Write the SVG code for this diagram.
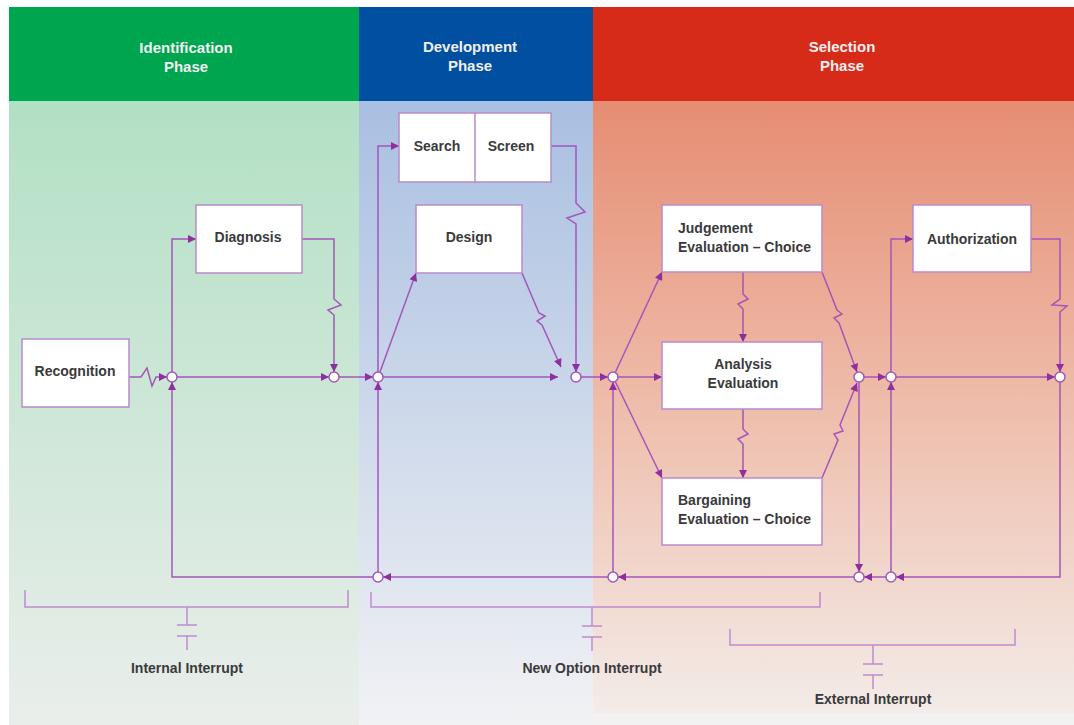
<svg xmlns="http://www.w3.org/2000/svg" width="1074" height="725" viewBox="0 0 1074 725">
  <defs>
    <linearGradient id="gGreen" x1="0" y1="0" x2="0" y2="1">
      <stop offset="0" stop-color="#b2e0c4"/>
      <stop offset="1" stop-color="#eaeeeb"/>
    </linearGradient>
    <linearGradient id="gBlue" x1="0" y1="0" x2="0" y2="1">
      <stop offset="0" stop-color="#a9bfe1"/>
      <stop offset="1" stop-color="#f1f2f4"/>
    </linearGradient>
    <linearGradient id="gRed" x1="0" y1="0" x2="0" y2="1">
      <stop offset="0" stop-color="#e68d73"/>
      <stop offset="0.55" stop-color="#efc2b1"/>
      <stop offset="1" stop-color="#f3ece8"/>
    </linearGradient>
    <marker id="ah" viewBox="0 0 10 10" refX="10" refY="5" markerWidth="9" markerHeight="8" markerUnits="userSpaceOnUse" orient="auto">
      <path d="M0,0 L10,5 L0,10 z" fill="#8e2f9f"/>
    </marker>
    <style>
      .hdr { font-family: "Liberation Sans Narrow", "Liberation Sans", Arial, sans-serif; font-weight: bold; font-size: 15px; fill: #f2eef0; text-anchor: middle; }
      .box { fill: #ffffff; stroke: #b98acb; stroke-width: 1.5; }
      .lbl { font-family: "Liberation Sans Narrow", "Liberation Sans", Arial, sans-serif; font-weight: bold; font-size: 14px; fill: #3a3a3c; }
      .mid { text-anchor: middle; }
      .ln { fill: none; stroke: #a456b9; stroke-width: 1.5; }
      .arr { marker-end: url(#ah); }
      .jn { fill: #ffffff; stroke: #a456b9; stroke-width: 1.5; }
      .br { fill: none; stroke: #c08ad0; stroke-width: 1.5; }
    </style>
  </defs>

  <!-- page -->
  <rect x="0" y="0" width="1074" height="725" fill="#ffffff"/>

  <!-- phase columns -->
  <rect x="9" y="101" width="350" height="624" fill="url(#gGreen)"/>
  <rect x="359" y="101" width="234" height="624" fill="url(#gBlue)"/>
  <rect x="593" y="101" width="481" height="612" fill="url(#gRed)"/>
  <rect x="593" y="713" width="481" height="12" fill="#f2f2f2"/>

  <!-- phase headers -->
  <g id="hdr-identification">
    <rect x="9" y="7" width="350" height="94" fill="#00a550"/>
    <text class="hdr" x="186" y="53">Identification</text>
    <text class="hdr" x="186" y="72">Phase</text>
  </g>
  <g id="hdr-development">
    <rect x="359" y="7" width="234" height="94" fill="#004fa0"/>
    <text class="hdr" x="470" y="52">Development</text>
    <text class="hdr" x="470" y="71">Phase</text>
  </g>
  <g id="hdr-selection">
    <rect x="593" y="7" width="481" height="94" fill="#d72b19"/>
    <text class="hdr" x="842" y="52">Selection</text>
    <text class="hdr" x="842" y="71">Phase</text>
  </g>

  <!-- connectors -->
  <g id="connectors">
    <path class="ln arr" d="M129,377 L141,377 L147,368 L152,386 L156,377 L167,377"/>
    <path class="ln arr" d="M177,377 L329,377"/>
    <path class="ln arr" d="M172,372 L172,239 L196,239"/>
    <path class="ln arr" d="M302,239 L334,239 L334,299 L341,305 L328,310 L334,315 L334,372"/>
    <path class="ln arr" d="M339,377 L373,377"/>
    <path class="ln arr" d="M378,372 L378,146 L399,146"/>
    <path class="ln arr" d="M380,372 L416,273"/>
    <path class="ln arr" d="M383,377 L558,377"/>
    <path class="ln arr" d="M551,146 L576,146 L576,203 L585,212 L567,218 L576,224 L576,372"/>
    <path class="ln arr" d="M522,273 L539,313 L545,316 L537,321 L542,325 L561,367"/>
    <path class="ln arr" d="M581,377 L608,377"/>
    <path class="ln arr" d="M615,373 L662,272"/>
    <path class="ln arr" d="M618,377 L662,377"/>
    <path class="ln arr" d="M615,381 L662,478"/>
    <path class="ln arr" d="M743,272 L743,294 L748,299 L738,304 L743,309 L743,342"/>
    <path class="ln arr" d="M743,409 L743,429 L748,434 L738,439 L743,444 L743,478"/>
    <path class="ln arr" d="M822,272 L837,310 L842,314 L834,318 L839,323 L857,372"/>
    <path class="ln arr" d="M822,478 L838,440 L834,434 L843,431 L840,425 L857,383"/>
    <path class="ln arr" d="M864,377 L886,377"/>
    <path class="ln arr" d="M891,372 L891,239 L913,239"/>
    <path class="ln arr" d="M1031,239 L1060,239 L1060,299 L1052,305 L1067,306 L1060,312 L1060,372"/>
    <path class="ln arr" d="M896,377 L1055,377"/>
    <path class="ln arr" d="M1060,382 L1060,577 L896,577"/>
    <path class="ln arr" d="M891,572 L891,382"/>
    <path class="ln arr" d="M859,382 L859,572"/>
    <path class="ln arr" d="M886,577 L864,577"/>
    <path class="ln arr" d="M854,577 L618,577"/>
    <path class="ln arr" d="M613,572 L613,382"/>
    <path class="ln arr" d="M608,577 L383,577"/>
    <path class="ln arr" d="M378,572 L378,382"/>
    <path class="ln arr" d="M373,577 L172,577 L172,382"/>

    <!-- junctions -->
    <circle class="jn" cx="172" cy="377" r="5"/>
    <circle class="jn" cx="334" cy="377" r="5"/>
    <circle class="jn" cx="378" cy="377" r="5"/>
    <circle class="jn" cx="576" cy="377" r="5"/>
    <circle class="jn" cx="613" cy="377" r="5"/>
    <circle class="jn" cx="859" cy="377" r="5"/>
    <circle class="jn" cx="891" cy="377" r="5"/>
    <circle class="jn" cx="1060" cy="377" r="5"/>
    <circle class="jn" cx="378" cy="577" r="5"/>
    <circle class="jn" cx="613" cy="577" r="5"/>
    <circle class="jn" cx="859" cy="577" r="5"/>
    <circle class="jn" cx="891" cy="577" r="5"/>
  </g>

  <!-- nodes -->
  <g id="recognition">
    <rect class="box" x="22" y="339" width="107" height="68"/>
    <text class="lbl mid" x="75" y="376">Recognition</text>
  </g>
  <g id="diagnosis">
    <rect class="box" x="196" y="205" width="106" height="68"/>
    <text class="lbl mid" x="248" y="242">Diagnosis</text>
  </g>
  <g id="search-screen">
    <rect class="box" x="399" y="113" width="152" height="69"/>
    <line x1="475" y1="113" x2="475" y2="182" stroke="#b98acb" stroke-width="1.5"/>
    <text class="lbl mid" x="437" y="151">Search</text>
    <text class="lbl mid" x="511" y="151">Screen</text>
  </g>
  <g id="design">
    <rect class="box" x="416" y="205" width="106" height="68"/>
    <text class="lbl mid" x="469" y="242">Design</text>
  </g>
  <g id="judgement">
    <rect class="box" x="662" y="205" width="160" height="67"/>
    <text class="lbl" x="678" y="233">Judgement</text>
    <text class="lbl" x="678" y="252">Evaluation – Choice</text>
  </g>
  <g id="analysis">
    <rect class="box" x="662" y="342" width="160" height="67"/>
    <text class="lbl mid" x="743" y="369">Analysis</text>
    <text class="lbl mid" x="743" y="388">Evaluation</text>
  </g>
  <g id="bargaining">
    <rect class="box" x="662" y="478" width="160" height="67"/>
    <text class="lbl" x="678" y="505">Bargaining</text>
    <text class="lbl" x="678" y="524">Evaluation – Choice</text>
  </g>
  <g id="authorization">
    <rect class="box" x="913" y="205" width="118" height="67"/>
    <text class="lbl mid" x="972" y="244">Authorization</text>
  </g>

  <!-- interrupt brackets -->
  <g id="internal-interrupt">
    <path class="br" d="M25,590 L25,607 L348,607 L348,590"/>
    <path class="br" d="M187,607 L187,625 M177,625 L197,625 M177,636 L197,636 M187,636 L187,650"/>
    <text class="lbl mid" x="187" y="673">Internal Interrupt</text>
  </g>
  <g id="new-option-interrupt">
    <path class="br" d="M371,592 L371,607 L820,607 L820,592"/>
    <path class="br" d="M592,607 L592,626 M582,626 L602,626 M582,637 L602,637 M592,637 L592,651"/>
    <text class="lbl mid" x="592" y="673">New Option Interrupt</text>
  </g>
  <g id="external-interrupt">
    <path class="br" d="M730,629 L730,645 L1015,645 L1015,629"/>
    <path class="br" d="M873,645 L873,664 M863,664 L883,664 M863,675 L883,675 M873,675 L873,689"/>
    <text class="lbl mid" x="873" y="704">External Interrupt</text>
  </g>
</svg>
